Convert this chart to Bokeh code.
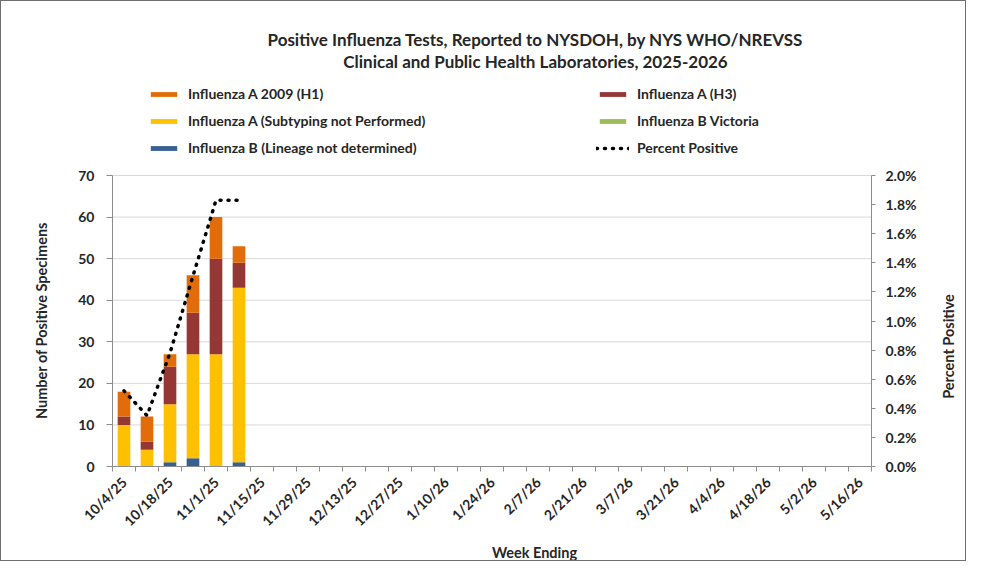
import numpy as np
from bokeh.plotting import figure
from bokeh.models import (Range1d, LinearAxis, FixedTicker, Legend, LegendItem,
                          Label, PrintfTickFormatter, ColumnDataSource)
from bokeh.embed import file_html
from bokeh.resources import INLINE

# ---- data ----
weeks = ["10/4/25", "10/11/25", "10/18/25", "10/25/25", "11/1/25", "11/8/25",
         "11/15/25", "11/22/25", "11/29/25", "12/6/25", "12/13/25", "12/20/25",
         "12/27/25", "1/3/26", "1/10/26", "1/17/26", "1/24/26", "1/31/26",
         "2/7/26", "2/14/26", "2/21/26", "2/28/26", "3/7/26", "3/14/26",
         "3/21/26", "3/28/26", "4/4/26", "4/11/26", "4/18/26", "4/25/26",
         "5/2/26", "5/9/26", "5/16/26"]
reported_weeks = ["10/4/25", "10/11/25", "10/18/25", "10/25/25", "11/1/25", "11/8/25"]
flu_b_lineage = [0, 0, 1, 2, 0, 1]
flu_a_unsub = [10, 4, 14, 25, 27, 42]
flu_b_victoria = [0, 0, 0, 0, 0, 0]
flu_a_h3 = [2, 2, 9, 10, 23, 6]
flu_a_h1 = [6, 6, 3, 9, 10, 4]
pct_positive = [0.52, 0.35, 0.78, 1.31, 1.83, 1.83]

left_ticks = [0, 10, 20, 30, 40, 50, 60, 70]
right_ticks = [0.0, 0.2, 0.4, 0.6, 0.8, 1.0, 1.2, 1.4, 1.6, 1.8, 2.0]
left_max = 70
right_max = 2.0

FONT = "Lato"
TXT = "#262626"
AX = "#8c8c8c"

c_h1 = "#E36C0A"
c_h3 = "#953735"
c_unsub = "#FFC000"
c_vic = "#9BBB59"
c_blin = "#376092"

# ---- layout (pixels) ----
W, H = 966, 561
PL, PR, PT, PB = 111, 870, 174, 465   # plot area edges

n = len(weeks)
xs = (PR - PL) / n
ys = (PB - PT) / left_max
x_start, x_end = -PL / xs, (W - PL) / xs
y_start, y_end = -(H - PB) / ys, PB / ys
k = right_max / left_max

xpos = [weeks.index(w) + 0.5 for w in reported_weeks]

source = ColumnDataSource(dict(x=xpos, blin=flu_b_lineage, unsub=flu_a_unsub,
                               vic=flu_b_victoria, h3=flu_a_h3, h1=flu_a_h1,
                               pct=pct_positive))

p = figure(width=W, height=H, output_backend="svg", toolbar_location=None,
           x_range=Range1d(x_start, x_end), y_range=Range1d(y_start, y_end),
           min_border=0)
p.outline_line_color = None
p.background_fill_color = "white"
p.border_fill_color = "white"
p.styles = {"border": "1px solid #6f6f6f"}
p.extra_y_ranges = {"pct": Range1d(y_start * k, y_end * k)}
p.xgrid.visible = False
p.ygrid.visible = False

# horizontal grid lines at the left-axis ticks
grid_y = left_ticks[1:]
p.segment(x0=[0] * len(grid_y), x1=[n] * len(grid_y), y0=grid_y, y1=grid_y,
          line_color="#d9d9d9", line_width=1)

stack_r = p.vbar_stack(["blin", "unsub", "vic", "h3", "h1"], x="x", width=0.55,
                       color=[c_blin, c_unsub, c_vic, c_h3, c_h1], line_color=None,
                       source=source)
r_blin, r_unsub, r_vic, r_h3, r_h1 = stack_r

r_pct = p.line("x", "pct", source=source, y_range_name="pct", line_color="black",
               line_width=3.5, line_dash="1 7", line_cap="round")

# x axis
xax = p.xaxis[0]
xax.fixed_location = 0
xax.bounds = (0, n)
xax.ticker = FixedTicker(ticks=[i + 0.5 for i in range(0, n, 2)],
                         minor_ticks=list(range(n + 1)))
xax.major_label_overrides = {i + 0.5: weeks[i] for i in range(0, n, 2)}
xax.major_label_orientation = np.pi / 4
xax.major_tick_out = 0
xax.major_tick_in = 0
xax.minor_tick_out = 5
xax.minor_tick_in = 0
xax.minor_tick_line_color = AX
xax.axis_line_color = AX
xax.major_label_text_font = FONT
xax.major_label_text_font_style = "bold"
xax.major_label_text_font_size = "14px"
xax.major_label_text_color = TXT
xax.major_label_standoff = 8

# left axis
yax = p.yaxis[0]
yax.fixed_location = 0
yax.bounds = (0, left_max)
yax.ticker = FixedTicker(ticks=left_ticks)
yax.minor_tick_line_color = None
yax.major_tick_out = 6
yax.major_tick_in = 0
yax.major_tick_line_color = AX
yax.axis_line_color = AX
yax.major_label_text_font = FONT
yax.major_label_text_font_style = "bold"
yax.major_label_text_font_size = "14px"
yax.major_label_text_color = TXT
yax.major_label_standoff = 12

# right axis
rax = LinearAxis(y_range_name="pct", ticker=FixedTicker(ticks=right_ticks),
                 formatter=PrintfTickFormatter(format="%.1f%%"),
                 fixed_location=n, bounds=(0, right_max))
rax.minor_tick_line_color = None
rax.major_tick_out = 4
rax.major_tick_in = 0
rax.major_tick_line_color = AX
rax.axis_line_color = AX
rax.major_label_text_font = FONT
rax.major_label_text_font_style = "bold"
rax.major_label_text_font_size = "14px"
rax.major_label_text_color = TXT
rax.major_label_standoff = 10
p.add_layout(rax, "right")

# legends (positions in pixels from the bottom-left corner)
def mk_legend(items, x):
    return Legend(items=items, location=(x, H - 155), orientation="vertical",
                  padding=0, margin=0, spacing=10, label_height=17,
                  glyph_width=33, glyph_height=6, label_standoff=8,
                  border_line_color=None, background_fill_alpha=0,
                  label_text_font=FONT, label_text_font_style="bold",
                  label_text_font_size="14px", label_text_color=TXT)

p.add_layout(mk_legend([LegendItem(label="Influenza A 2009 (H1)", renderers=[r_h1]),
                        LegendItem(label="Influenza A (Subtyping not Performed)", renderers=[r_unsub]),
                        LegendItem(label="Influenza B (Lineage not determined)", renderers=[r_blin])],
                       146))
p.add_layout(mk_legend([LegendItem(label="Influenza A (H3)", renderers=[r_h3]),
                        LegendItem(label="Influenza B Victoria", renderers=[r_vic]),
                        LegendItem(label="Percent Positive", renderers=[r_pct])],
                       595))

def lab(text, x, y, size, angle=0.0):
    return Label(text=text, x=x, y=H - y, x_units="screen", y_units="screen",
                 text_align="center", text_baseline="middle", angle=angle,
                 text_font=FONT, text_font_style="bold", text_font_size=size,
                 text_color=TXT)

p.add_layout(lab("Positive Influenza Tests, Reported to NYSDOH, by NYS WHO/NREVSS",
                 534, 38, "17px"))
p.add_layout(lab("Clinical and Public Health Laboratories, 2025-2026", 534, 60, "17px"))
p.add_layout(lab("Number of Positive Specimens", 40, 319, "14.5px", angle=np.pi / 2))
p.add_layout(lab("Percent Positive", 947, 345, "14.5px", angle=np.pi / 2))
p.add_layout(lab("Week Ending", 533, 551, "14.5px"))

open("out.html", "w").write(file_html(p, INLINE))
